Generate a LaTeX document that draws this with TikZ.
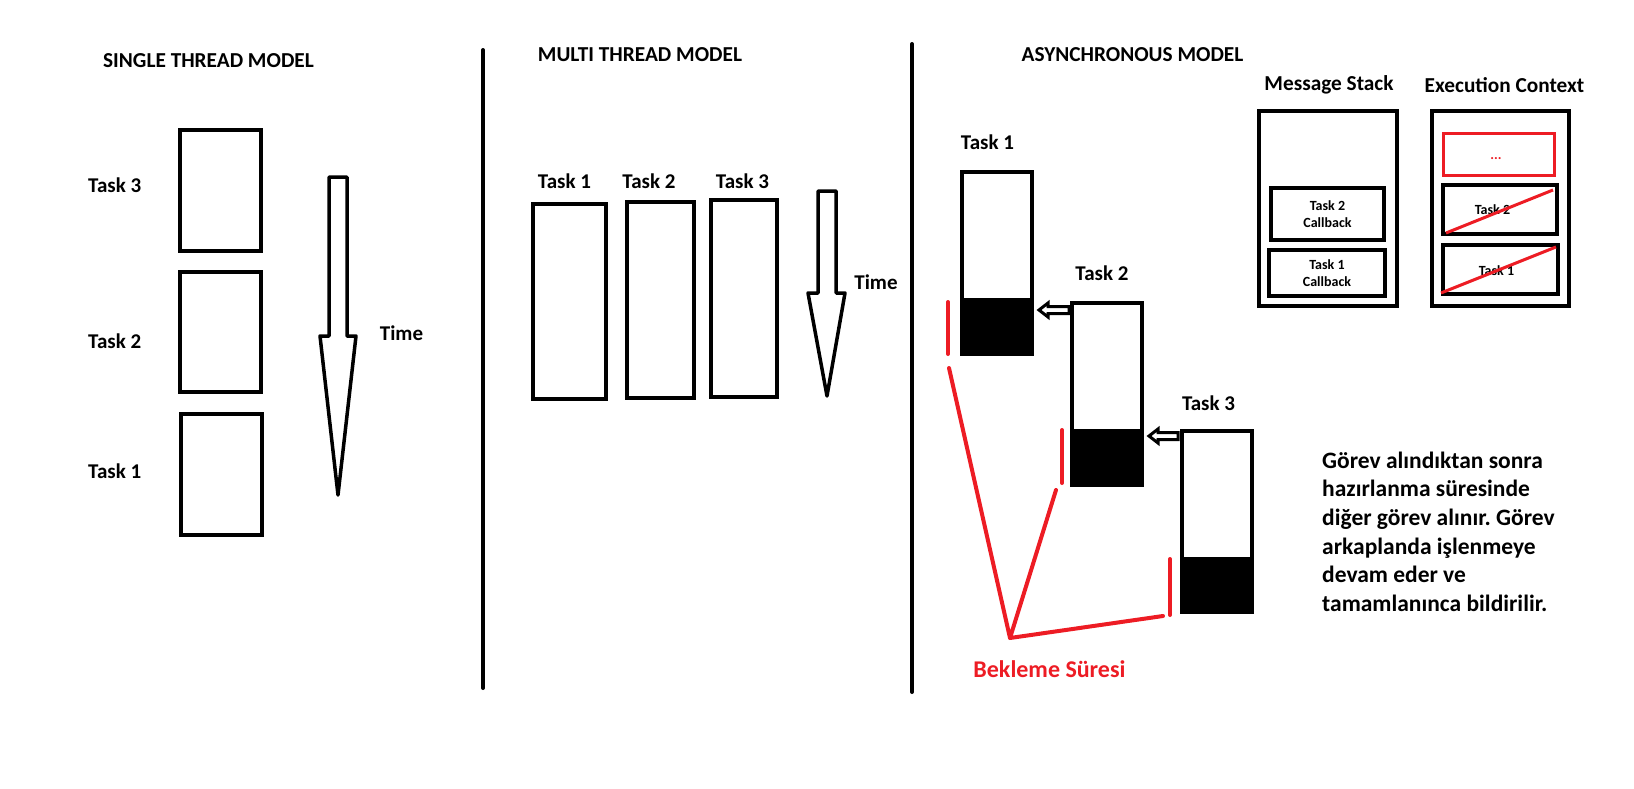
\documentclass[tikz,border=0pt]{standalone}
\usepackage{fontspec}
\setmainfont{Carlito}
\usetikzlibrary{calc}
\definecolor{pred}{HTML}{ED1C24}
\frenchspacing
\begin{document}
\begin{tikzpicture}[x=1pt,y=-1pt,
  box/.style={draw=black, line width=4pt, fill=white, inner sep=0pt},
  rbox/.style={draw=pred, line width=3pt, fill=white, inner sep=0pt},
  lbl/.style={font=\bfseries\fontsize{21}{25}\selectfont, inner sep=0pt},
  ttl/.style={font=\bfseries\fontsize{21.3}{25}\selectfont, inner sep=0pt},
  redlbl/.style={font=\bfseries\fontsize{24}{28}\selectfont, inner sep=0pt, text=pred},
  small/.style={font=\bfseries\fontsize{14}{17.5}\selectfont, align=center},
  expl/.style={font=\bfseries\fontsize{23.5}{28.7}\selectfont, inner sep=0pt, align=left},
  sepline/.style={line width=4pt, line cap=round},
  timearrow/.style={draw=black, line width=3.5pt, line join=round, fill=white},
  smallarrow/.style={draw=black, line width=3pt, line join=miter, fill=white},
  redline/.style={draw=pred, line width=4pt, line cap=round},
  strike/.style={draw=pred, line width=3pt},
  blk/.style={fill=black}
]
\useasboundingbox (0,0) rectangle (1634,788);

% ---------- separators
\coordinate (sepAt) at (483,50);
\coordinate (sepAb) at (483,688);
\coordinate (sepBt) at (912,44);
\coordinate (sepBb) at (912,692);
\draw[sepline] (sepAt) -- (sepAb);
\draw[sepline] (sepBt) -- (sepBb);

% ---------- single thread
\node[ttl] (t1) at (208.5,61) {SINGLE THREAD MODEL};
\node[box, minimum width=81pt, minimum height=121pt] (s3) at (220.5,190.5) {};
\node[box, minimum width=81pt, minimum height=120pt] (s2) at (220.5,332) {};
\node[box, minimum width=81pt, minimum height=121pt] (s1) at (221.5,474.5) {};
\node[lbl, anchor=west] (ls3) at (88,185) {Task 3};
\node[lbl, anchor=west] (ls2) at (88,341) {Task 2};
\node[lbl, anchor=west] (ls1) at (88,471) {Task 1};
\draw[timearrow] (329,177) -- (347,177) -- (347,336) -- (356,336) -- (338,495) -- (320,336) -- (329,336) -- cycle;
\node[lbl] (time1) at (401.5,333) {Time};

% ---------- multi thread
\node[ttl] (t2) at (640,55) {MULTI THREAD MODEL};
\node[box, minimum width=73pt, minimum height=195pt] (m1) at (569.5,301.5) {};
\node[box, minimum width=67pt, minimum height=196pt] (m2) at (660.5,300) {};
\node[box, minimum width=66pt, minimum height=197pt] (m3) at (744,298.5) {};
\node[lbl] (lm1) at (564.5,181) {Task 1};
\node[lbl] (lm2) at (649,181) {Task 2};
\node[lbl] (lm3) at (742.5,181) {Task 3};
\draw[timearrow] (818,191) -- (836,191) -- (836,293) -- (845,293) -- (827,396) -- (808,293) -- (818,293) -- cycle;
\node[lbl] (time2) at (876,282) {Time};

% ---------- asynchronous
\node[ttl] (t3) at (1132.5,55) {ASYNCHRONOUS MODEL};
\node[box, minimum width=70pt, minimum height=182pt] (a1) at (997,263) {};
\node[box, minimum width=70pt, minimum height=182pt] (a2) at (1107,394) {};
\node[box, minimum width=70pt, minimum height=181pt] (a3) at (1217,521.5) {};
\coordinate (k1) at (0,298);
\coordinate (k2) at (0,429);
\coordinate (k3) at (0,557);
\fill[blk] (a1.south west) rectangle (a1.east |- k1);
\fill[blk] (a2.south west) rectangle (a2.east |- k2);
\fill[blk] (a3.south west) rectangle (a3.east |- k3);
\node[lbl] (la1) at (987.5,142) {Task 1};
\node[lbl] (la2) at (1102,273) {Task 2};
\node[lbl] (la3) at (1208.5,403) {Task 3};

% small arrows (box 2 -> box 1, box 3 -> box 2)
\coordinate (p1) at (1039,310);
\draw[smallarrow] (p1) -- ++(9,-7) -- ++(0,3.5) -- ++(21,0) -- ++(0,7) -- ++(-21,0) -- ++(0,3.5) -- cycle;
\coordinate (p2) at (1149,436);
\draw[smallarrow] (p2) -- ++(9,-7) -- ++(0,3.5) -- ++(20,0) -- ++(0,7) -- ++(-20,0) -- ++(0,3.5) -- cycle;

% red waiting lines
\coordinate (r1a) at (948,302);
\coordinate (r1b) at (948,354);
\coordinate (r2a) at (1062,430);
\coordinate (r2b) at (1062,483);
\coordinate (r3a) at (1170,559);
\coordinate (r3b) at (1170,615);
\coordinate (v1) at (949,368);
\coordinate (vx) at (1010,638);
\coordinate (v2) at (1056,490);
\coordinate (v3) at (1163,616);
\draw[redline] (r1a) -- (r1b);
\draw[redline] (r2a) -- (r2b);
\draw[redline] (r3a) -- (r3b);
\draw[redline, line join=round] (v1) -- (vx) -- (v2);
\draw[redline] (vx) -- (v3);
\node[redlbl] (bek) at (1049.5,669) {Bekleme Süresi};

% message stack
\node[ttl] (t4) at (1329,85) {Message Stack};
\node[box, minimum width=138pt, minimum height=195pt] (ms) at (1328,208.5) {};
\node[box, minimum width=113pt, minimum height=52pt, small] (cb2) at (1327.5,214) {Task 2\\Callback};
\node[box, minimum width=116pt, minimum height=46pt, small] (cb1) at (1327,273) {Task 1\\Callback};

% execution context
\node[ttl] (t5) at (1504.5,85) {Execution Context};
\node[box, minimum width=137pt, minimum height=195pt] (ec) at (1500.5,208.5) {};
\node[rbox, minimum width=111pt, minimum height=42pt] (dots) at (1499,154.5) {};
\node[small, text=pred, anchor=base] (dotst) at (1496,159) {...};
\node[box, minimum width=114pt, minimum height=49pt] (ex2) at (1500,209.5) {};
\node[box, minimum width=115pt, minimum height=49pt] (ex1) at (1500.5,269.5) {};
\node[small] (ex2t) at (1492.5,210) {Task 2};
\node[small] (ex1t) at (1496.5,271) {Task 1};
\coordinate (s2a) at (1446,233);
\coordinate (s2b) at (1553,190);
\coordinate (s1a) at (1441,293);
\coordinate (s1b) at (1556,247);
\draw[strike] (s2a) -- (s2b);
\draw[strike] (s1a) -- (s1b);

% explanation
\node[expl, anchor=north west] (txt) at (1322,451.5) {Görev alındıktan sonra\\hazırlanma süresinde\\diğer görev alınır. Görev\\arkaplanda işlenmeye\\devam eder ve\\tamamlanınca bildirilir.};
\end{tikzpicture}
\end{document}
